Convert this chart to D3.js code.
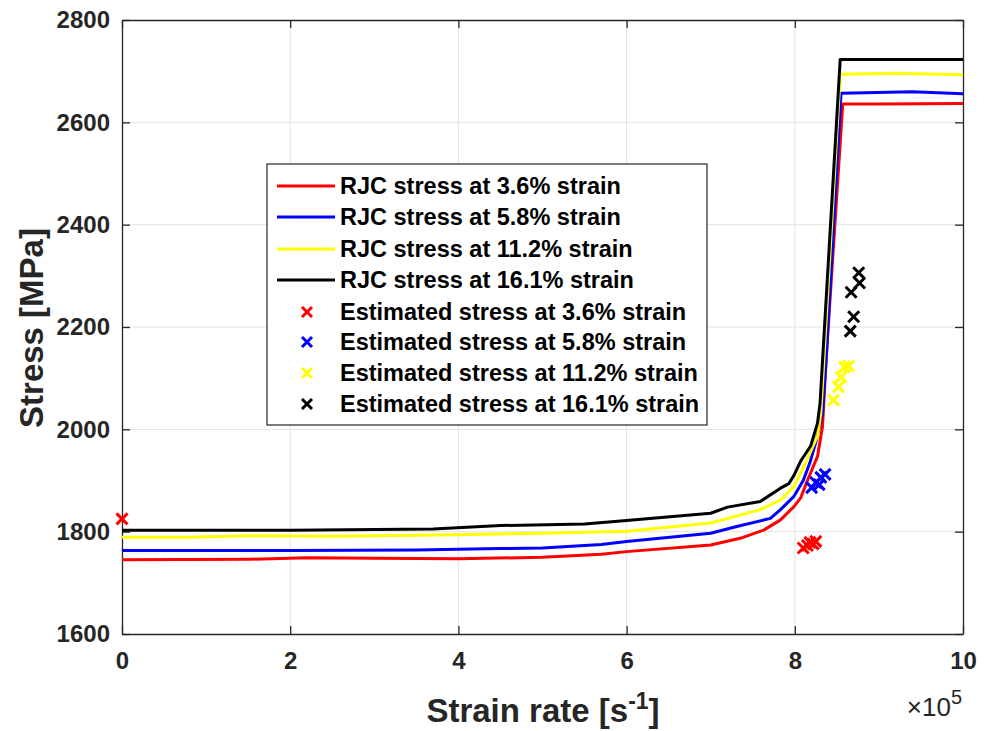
<!DOCTYPE html>
<html>
<head>
<meta charset="utf-8">
<script src="https://cdn.jsdelivr.net/npm/d3@7"></script>
<style>
  body { margin: 0; background: #fff; }
  svg text { font-family: "Liberation Sans", Arial, sans-serif; font-weight: bold; }
</style>
</head>
<body>
<svg id="chart" width="988" height="731"></svg>
<script>
// strain rate in units of 1e5 s^-1, stress in MPa
const rjc36 = [[0,1745],[1.5,1746],[2.2,1749],[3.0,1748],[4.0,1747],[5.0,1750],[5.7,1756],[6.0,1761],[7.0,1774],[7.35,1787],[7.63,1803],[7.83,1823],[7.99,1849],[8.07,1866],[8.15,1900],[8.27,1947],[8.33,2006],[8.37,2130],[8.57,2636],[9.0,2636],[10,2637]]
const rjc58 = [[0,1763],[2,1763],[3.5,1764],[4.5,1767],[5.0,1768],[5.7,1775],[6.0,1781],[7.0,1797],[7.31,1810],[7.71,1826],[7.83,1843],[7.99,1869],[8.1,1900],[8.18,1935],[8.25,1975],[8.33,2032],[8.37,2130],[8.55,2657],[9.4,2660],[10,2656]]
const rjc112 = [[0,1789],[0.8,1789],[1.5,1792],[2.5,1791],[4.0,1794],[5.0,1797],[6.0,1801],[7.0,1817],[7.59,1843],[7.83,1862],[7.99,1888],[8.13,1935],[8.27,1987],[8.31,2032],[8.54,2694],[9.2,2696],[10,2693]]
const rjc161 = [[0,1803],[2,1803],[3.7,1805],[4.5,1812],[5.5,1815],[6.0,1822],[7.0,1836],[7.2,1848],[7.59,1859],[7.83,1885],[7.93,1894],[7.99,1910],[8.07,1938],[8.19,1968],[8.27,2012],[8.30,2051],[8.54,2723],[10,2723]]

const est36 = [[0,1825],[8.10,1768],[8.15,1773],[8.18,1779],[8.22,1776],[8.25,1781]]
const est58 = [[8.20,1886],[8.25,1896],[8.29,1892],[8.31,1906],[8.36,1912]]
const est112 = [[8.46,2057],[8.52,2083],[8.55,2102],[8.59,2122],[8.64,2124]]
const est161 = [[8.66,2192],[8.70,2220],[8.67,2268],[8.77,2286],[8.76,2306]]

const labels = ["3.6%", "5.8%", "11.2%", "16.1%"]
const colors = ["#ff0000", "#0000ff", "#ffff00", "#000000"]
const xTicks = [0, 2, 4, 6, 8, 10]
const yTicks = [1600, 1800, 2000, 2200, 2400, 2600, 2800]

const svg = d3.select("#chart")
const mLeft = 122, mRight = 963, mTop = 20, mBottom = 634
const x = d3.scaleLinear().domain([0, 10]).range([mLeft, mRight])
const y = d3.scaleLinear().domain([1600, 2800]).range([mBottom, mTop])
const axisColor = "#262626"

// grid
svg.append("g").selectAll("line").data(xTicks.slice(1, -1)).enter().append("line")
  .attr("x1", d => x(d)).attr("x2", d => x(d)).attr("y1", mTop).attr("y2", mBottom)
  .attr("stroke", "#e3e3e3").attr("stroke-width", 1)
svg.append("g").selectAll("line").data(yTicks.slice(1, -1)).enter().append("line")
  .attr("y1", d => y(d)).attr("y2", d => y(d)).attr("x1", mLeft).attr("x2", mRight)
  .attr("stroke", "#e3e3e3").attr("stroke-width", 1)

// axes with inward ticks
const xAxis = svg.append("g").attr("transform", `translate(0,${mBottom})`)
  .call(d3.axisBottom(x).tickValues(xTicks).tickSizeInner(-8).tickSizeOuter(0).tickPadding(18))
const yAxis = svg.append("g").attr("transform", `translate(${mLeft},0)`)
  .call(d3.axisLeft(y).tickValues(yTicks).tickSizeInner(-8).tickSizeOuter(0).tickPadding(12).tickFormat(d3.format("d")))
const xTop = svg.append("g").attr("transform", `translate(0,${mTop})`)
  .call(d3.axisTop(x).tickValues(xTicks).tickSizeInner(-8).tickSizeOuter(0).tickFormat(""))
const yRight = svg.append("g").attr("transform", `translate(${mRight},0)`)
  .call(d3.axisRight(y).tickValues(yTicks).tickSizeInner(-8).tickSizeOuter(0).tickFormat(""))
;[xAxis, yAxis, xTop, yRight].forEach(g => {
  g.select(".domain").attr("stroke", axisColor).attr("stroke-width", 1.3)
  g.selectAll(".tick line").attr("stroke", axisColor).attr("stroke-width", 1.3)
  g.selectAll(".tick text").attr("fill", axisColor).style("font-size", "24px")
})
xAxis.selectAll(".tick text").attr("dy", "0.71em")

// lines
const line = d3.line().x(d => x(d[0])).y(d => y(d[1]))
;[rjc36, rjc58, rjc112, rjc161].forEach((s, i) => {
  svg.append("path").datum(s).attr("d", line)
    .attr("fill", "none").attr("stroke", colors[i]).attr("stroke-width", 3)
    .attr("stroke-linejoin", "round")
})

// cross markers
const cross = (g, cx, cy, c, r) => {
  g.append("path")
    .attr("d", `M${cx - r},${cy - r}L${cx + r},${cy + r}M${cx - r},${cy + r}L${cx + r},${cy - r}`)
    .attr("stroke", c).attr("stroke-width", 3).attr("fill", "none")
}
;[est36, est58, est112, est161].forEach((s, i) => {
  const g = svg.append("g")
  s.forEach(d => cross(g, x(d[0]), y(d[1]), colors[i], 5.5))
})

// legend
const lg = svg.append("g")
lg.append("rect").attr("x", 267).attr("y", 164).attr("width", 440).attr("height", 261)
  .attr("fill", "#fff").attr("stroke", axisColor).attr("stroke-width", 1.2)
const rowY = [186, 217, 249, 280, 312, 342, 373, 404]
labels.forEach((l, i) => {
  lg.append("line").attr("x1", 277).attr("x2", 335).attr("y1", rowY[i]).attr("y2", rowY[i])
    .attr("stroke", colors[i]).attr("stroke-width", 3)
  lg.append("text").attr("x", 340).attr("y", rowY[i]).attr("dy", "0.36em")
    .style("font-size", "23.5px").attr("fill", "#000").text(`RJC stress at ${l} strain`)
})
labels.forEach((l, i) => {
  const yy = rowY[i + 4]
  cross(lg, 307, yy, colors[i], 5)
  lg.append("text").attr("x", 340).attr("y", yy).attr("dy", "0.36em")
    .style("font-size", "23.5px").attr("fill", "#000").text(`Estimated stress at ${l} strain`)
})

// axis labels
const xl = svg.append("text").attr("x", 543).attr("y", 722).attr("text-anchor", "middle")
  .style("font-size", "33px").attr("fill", axisColor)
xl.append("tspan").text("Strain rate [s")
xl.append("tspan").attr("dy", -13).style("font-size", "23px").text("-1")
xl.append("tspan").attr("dy", 13).text("]")

svg.append("text").attr("transform", "translate(43,328) rotate(-90)").attr("text-anchor", "middle")
  .style("font-size", "33px").attr("fill", axisColor).text("Stress [MPa]")

const ex = svg.append("text").attr("x", 962).attr("y", 716).attr("text-anchor", "end")
  .style("font-size", "26px").style("font-weight", "normal").attr("fill", axisColor)
ex.append("tspan").text("×10")
ex.append("tspan").attr("dy", -12).style("font-size", "20px").text("5")
</script>
</body>
</html>
